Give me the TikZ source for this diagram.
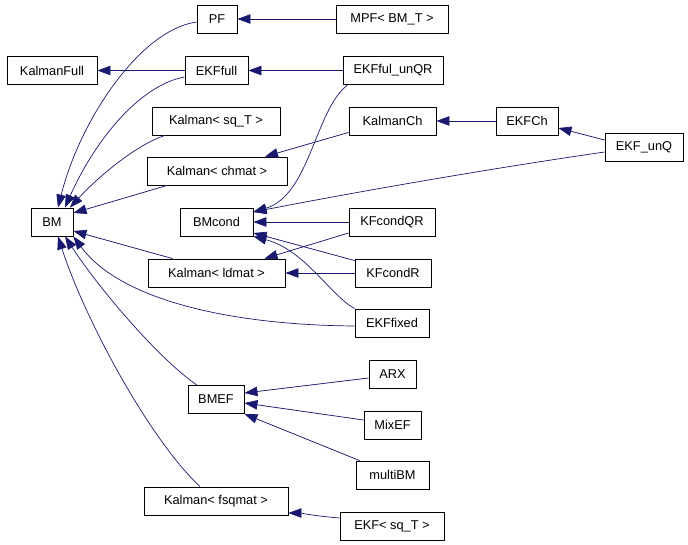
\documentclass[tikz,border=0pt]{standalone}
\usepackage{fontspec}
\setmainfont{Liberation Sans}
\usepackage{tikz}
\usetikzlibrary{arrows.meta}
\definecolor{navyedge}{HTML}{191970}

\begin{document}
\begin{tikzpicture}[x=1pt, y=-1pt,
	cls/.style={draw, line width=0.9pt, minimum height=28, inner sep=0pt, font=\fontsize{12.8}{14}\selectfont},
	inh/.style={->, >={Triangle[length=13pt,width=9.5pt]}, draw=navyedge, fill=navyedge, line width=0.7pt}]
	% Fix the frame
	\useasboundingbox (0,0) rectangle (688,544);
	% Draw nodes
	\node[cls, minimum width=40] (pf) at (217,19) {PF};
	\node[cls, minimum width=112] (mpf) at (392,19) {MPF< BM\_T >};
	\node[cls, minimum width=90] (kfull) at (52,70.5) {KalmanFull};
	\node[cls, minimum width=63] (ekffull) at (216.5,70.5) {EKFfull};
	\node[cls, minimum width=100] (ekfunqr) at (393,70.5) {EKFful\_unQR};
	\node[cls, minimum width=128] (ksqt) at (216,121) {Kalman< sq\_T >};
	\node[cls, minimum width=87] (kch) at (392.5,121) {KalmanCh};
	\node[cls, minimum width=62] (ekfch) at (527,121) {EKFCh};
	\node[cls, minimum width=78] (ekfunq) at (644,147) {EKF\_unQ};
	\node[cls, minimum width=140] (kchmat) at (217,171) {Kalman< chmat >};
	\node[cls, minimum width=42] (bm) at (52,222) {BM};
	\node[cls, minimum width=73] (bmcond) at (216.5,222) {BMcond};
	\node[cls, minimum width=86] (kfcondqr) at (392,222) {KFcondQR};
	\node[cls, minimum width=137] (kldmat) at (216.5,273) {Kalman< ldmat >};
	\node[cls, minimum width=76] (kfcondr) at (393,273) {KFcondR};
	\node[cls, minimum width=74] (ekffixed) at (392,323) {EKFfixed};
	\node[cls, minimum width=47] (arx) at (392.5,374.5) {ARX};
	\node[cls, minimum width=56] (bmef) at (216,399.5) {BMEF};
	\node[cls, minimum width=57] (mixef) at (392.5,425) {MixEF};
	\node[cls, minimum width=73] (multibm) at (392.5,475) {multiBM};
	\node[cls, minimum width=144] (kfsqmat) at (216,501) {Kalman< fsqmat >};
	\node[cls, minimum width=104] (ekfsqt) at (392,526) {EKF< sq\_T >};
	% Draw straight inheritance edges
	\draw[inh] (mpf.west) -- (pf.east);
	\draw[inh] (ekffull.west) -- (kfull.east);
	\draw[inh] (ekfunqr.west) -- (ekffull.east);
	\draw[inh] (ekfch.west) -- (kch.east);
	\draw[inh] ([yshift=3]kch.south west) -- ([xshift=48]kchmat.north);
	\draw[inh] ([yshift=7]ekfunq.west) -- ([yshift=-7]ekfch.east);
	\draw[inh] (kfcondqr.west) -- (bmcond.east);
	\draw[inh] ([yshift=-11]kfcondqr.west) -- ([xshift=48]kldmat.north);
	\draw[inh] (kfcondr.west) -- (kldmat.east);
	\draw[inh] ([yshift=-2]kfcondr.north west) -- ([yshift=-11]bmcond.east);
	\draw[inh] ([xshift=-44]kldmat.north) -- ([yshift=-9]bm.east);
	\draw[inh] ([xshift=-50]kchmat.south) -- ([yshift=9]bm.east);
	\draw[inh] ([yshift=-3.5]arx.west) -- ([yshift=6.5]bmef.east);
	\draw[inh] ([yshift=5]mixef.west) -- ([yshift=-3.5]bmef.east);
	\draw[inh] ([xshift=4]multibm.north west) -- (bmef.south east);
	% Draw curved inheritance edges
	\draw[inh, fill=none] ([yshift=-5]ekfunq.west) .. controls (480,170) and (340,195) .. ([yshift=10]bmcond.east);
	\draw[inh, fill=none] ([xshift=5]ekfunqr.south west) .. controls (315,110) and (310,195) .. ([yshift=10]bmcond.east);
	\draw[inh, fill=none] (ekffixed.north west) .. controls (330,295) and (305,250) .. (bmcond.south east);
	\draw[inh, fill=none] ([yshift=-3]ekffixed.west) .. controls (230,325) and (120,300) .. (bm.south east);
	\draw[inh, fill=none] ([xshift=-51]ksqt.south) .. controls (135,145) and (95,180) .. ([xshift=18]bm.north);
	\draw[inh, fill=none] ([yshift=-6.5]ekffull.west) .. controls (140,85) and (95,140) .. ([xshift=13]bm.north);
	\draw[inh, fill=none] ([yshift=-3]pf.west) .. controls (140,30) and (80,120) .. ([xshift=6]bm.north);
	\draw[inh, fill=none] ([xshift=-19]bmef.north) .. controls (160,360) and (100,290) .. ([xshift=13]bm.south);
	\draw[inh, fill=none] ([xshift=-16]kfsqmat.north) .. controls (150,440) and (85,320) .. ([xshift=6]bm.south);
	\draw[inh, fill=none] ([yshift=8]ekfsqt.west) .. controls (315,516) and (300,513) .. ([yshift=-12]kfsqmat.east);
\end{tikzpicture}
\end{document}
